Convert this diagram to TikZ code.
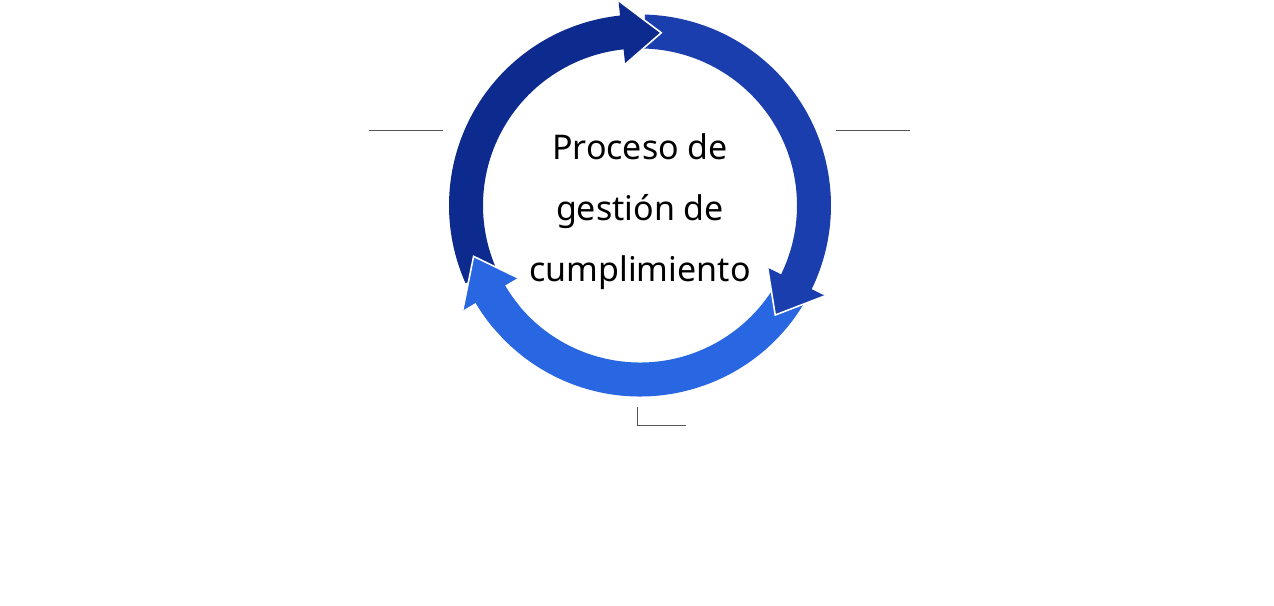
\documentclass[tikz,border=0pt]{standalone}
\usepackage{fontspec}
\setmainfont{Noto Sans}
\definecolor{darkarc}{HTML}{0D2B8E}
\definecolor{midarc}{HTML}{1B3EAF}
\definecolor{lightarc}{HTML}{2866E2}
\definecolor{leader}{HTML}{555555}
\begin{document}
\begin{tikzpicture}[x=1pt,y=1pt,
  leaderline/.style={draw=leader,line width=1pt},
  headedge/.style={draw=white,line width=1.6pt,line join=miter},
  ringtext/.style={align=center,font=\fontsize{34}{61}\selectfont,text=black}]
\useasboundingbox (0,0) rectangle (1274,605);
\def\Ro{191}\def\Ri{157}\def\Hi{142}\def\Ho{206}\def\Rm{174}
\coordinate (c) at (640,399.5);
% arcs with heads (start, head base, tip)
\fill[lightarc,shift={(c)}] (-31:\Ro) arc[start angle=-31,end angle=-149.4,radius=\Ro]
  -- (-149.4:\Ho) -- (-163:\Rm) -- (-149.4:\Hi) -- (-149.4:\Ri)
  arc[start angle=-149.4,end angle=-31,radius=\Ri] -- cycle;
\fill[midarc,shift={(c)}] (88.5:\Ro) arc[start angle=88.5,end angle=-26,radius=\Ro]
  -- (-26:\Ho) -- (-39:\Rm) -- (-26:\Hi) -- (-26:\Ri)
  arc[start angle=-26,end angle=88.5,radius=\Ri] -- cycle;
\draw[headedge,shift={(c)}] (-26:\Ho) -- (-39:\Rm) -- (-26:\Hi);
\fill[darkarc,shift={(c)}] (204:\Ro) arc[start angle=204,end angle=96,radius=\Ro]
  -- (96:\Ho) -- (83:\Rm) -- (96:\Hi) -- (96:\Ri)
  arc[start angle=96,end angle=204,radius=\Ri] -- cycle;
\draw[headedge,shift={(c)}] (96:\Ho) -- (83:\Rm) -- (96:\Hi);
% light head on top of dark start
\fill[lightarc,shift={(c)}] (-149.4:\Ho) -- (-163:\Rm) -- (-149.4:\Hi)
  -- (-149.4:\Ri) arc[start angle=-149.4,end angle=-140,radius=\Ri]
  -- (-140:\Ro) arc[start angle=-140,end angle=-149.4,radius=\Ro] -- cycle;
\draw[headedge,shift={(c)}] (-149.4:\Ho) -- (-163:\Rm) -- (-149.4:\Hi);
% text
\node[ringtext] (title) at (640,393.5) {Proceso de\\gestión de\\cumplimiento};
% leader lines
\coordinate (l1) at (369,474); \coordinate (l2) at (443,474);
\coordinate (r1) at (836,474); \coordinate (r2) at (910,474);
\coordinate (b1) at (637,198); \coordinate (b2) at (637,179); \coordinate (b3) at (686,179);
\draw[leaderline] (l1) -- (l2);
\draw[leaderline] (r1) -- (r2);
\draw[leaderline] (b1) -- (b2) -- (b3);
\end{tikzpicture}
\end{document}
